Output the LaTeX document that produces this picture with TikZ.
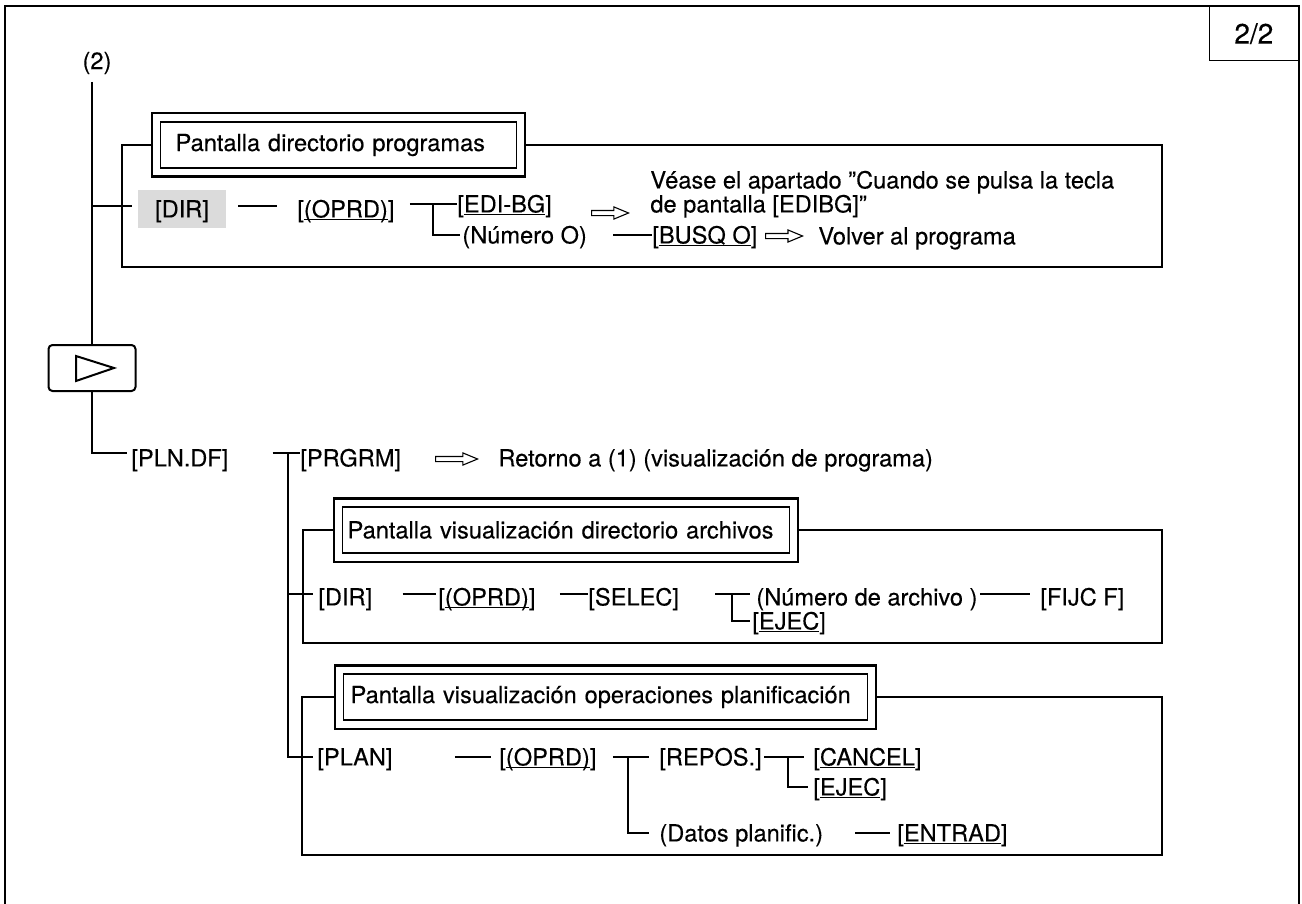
\documentclass[tikz,border=0pt]{standalone}
\usepackage{fontspec}
\setmainfont{TeX Gyre Heros}[FakeBold=0.25]
\usetikzlibrary{fit,shapes.arrows,calc}
\newcommand\txtsize{\fontsize{11.8pt}{12pt}\selectfont}
% soft-key underline drawn just under the baseline
\newcommand\keyul[1]{\sbox0{#1}\rlap{\rule[-1.3pt]{\wd0}{0.6pt}}\usebox0}
\begin{document}
\begin{tikzpicture}[x=0.5pt,y=-0.5pt,
  lbl/.style={inner sep=0pt, anchor=west, font=\txtsize, text height=8.45pt, text depth=0pt},
  keybox/.style={lbl, anchor=center, fill=black!14, minimum width=44pt, minimum height=19pt},
  hin/.style={draw, line width=0.6pt, anchor=west, font=\txtsize, minimum height=23pt, align=left, inner ysep=0pt},
  hout/.style={draw, line width=1.1pt, inner sep=4pt},
  frm/.style={line width=0.65pt},
  conn/.style={line width=0.75pt},
  trunk/.style={line width=1pt},
  harrow/.style={single arrow, draw, line width=0.55pt, anchor=tail, inner xsep=0pt, inner ysep=1pt,
    minimum height=18.5pt, minimum width=0pt, single arrow head extend=1.75pt,
    single arrow tip angle=45, text height=0pt, text depth=0pt},
]
\useasboundingbox (0,0) rectangle (1302,904);

% page border and sheet number
\draw[line width=1.3pt] (5,904) -- (5,6) -- (1299,6) -- (1299,904);
\node[draw, line width=0.65pt, anchor=north east, minimum width=44.5pt, minimum height=27pt,
  font=\fontsize{14pt}{16pt}\selectfont] (page) at (1299,6) {2/2};

% entry point and trunk
\node[font=\txtsize, inner sep=0pt] (lab2) at (97,63) {(2)};
\coordinate (top) at (92,82);
\node[draw, line width=1pt, rounded corners=2pt, minimum width=43.5pt, minimum height=23pt] (nxt) at (92,368) {};
\draw[line width=1pt, line join=miter] ($(nxt.center)+(-16,-12)$) -- ($(nxt.center)+(22,0)$) -- ($(nxt.center)+(-16,13)$) -- cycle;

% ---------- program directory screen ----------
\node[hin, text width=163pt, inner xsep=7.5pt] (h1i) at (160,145) {Pantalla directorio programas};
\node[hout, fit=(h1i)] (h1) {};
\coordinate (f1bl) at (122,267);
\coordinate (f1br) at (1162,267);
\draw[frm] (h1.west) -| (f1bl) -- (f1br) |- (h1.east);

\node[keybox] (dir1) at (182,209) {[DIR]};
\node[lbl] (oprd1) at (297,209) {[\keyul{(OPRD)}]};
\node[lbl] (edi) at (457,204) {[\keyul{EDI-BG}]};
\node[lbl] (numo) at (462,235) {(Número O)};
\node[lbl] (busq) at (652,235) {[\keyul{BUSQ O}]};
\node[harrow] (ar1) at (591,213) {};
\node[harrow] (ar2) at (765,236) {};
\node[lbl] (vea1) at (650,180) {Véase el apartado ”Cuando se pulsa la tecla};
\node[lbl] (vea2) at (650,204) {de pantalla [EDIBG]”};
\node[lbl] (volv) at (818,236) {Volver al programa};

\coordinate (j1) at (92,206);
\coordinate (t1) at (433,204);
\draw[conn] (j1) -- ([xshift=-3pt]dir1.west |- j1);
\draw[conn] ([xshift=6pt]dir1.east |- j1) -- ([xshift=-10pt]oprd1.west |- j1);
\draw[conn] ([xshift=7.5pt]oprd1.east |- edi.west) -- (edi.west);
\draw[conn] (t1) |- ([xshift=-1pt]numo.west);
\draw[conn] ([xshift=13pt]numo.east) -- (busq.west);

% ---------- plan display branch ----------
\node[lbl] (pln) at (131,458) {[PLN.DF]};
\node[lbl] (prg) at (300,458) {[PRGRM]};
\node[harrow, minimum height=21pt] (ar3) at (435,459) {};
\node[lbl] (ret) at (498,458) {Retorno a (1) (visualización de programa)};

\coordinate (c1) at (92,453);
\coordinate (v2t) at (288,453);
\coordinate (v2b) at (288,757);
\draw[trunk] (top) -- (nxt.north);
\draw[trunk] (nxt.south) -- (c1) -- ([xshift=-2pt]pln.west |- c1);
\draw[conn] ([xshift=22pt]pln.east |- v2t) -- (prg.west |- v2t);

% ---------- file directory screen ----------
\node[hin, text width=218.5pt, inner xsep=2.5pt] (h2i) at (342,530) {Pantalla visualización directorio archivos};
\node[hout, fit=(h2i)] (h2) {};
\coordinate (f2bl) at (303,643);
\coordinate (f2br) at (1162,643);
\draw[frm] (h2.west) -| (f2bl) -- (f2br) |- (h2.east);

\node[lbl] (dir2) at (318,597) {[DIR]};
\node[lbl] (oprd2) at (438,597) {[\keyul{(OPRD)}]};
\node[lbl] (sel) at (588,597) {[SELEC]};
\node[lbl] (numa) at (756,597) {(Número de archivo )};
\node[lbl] (fijc) at (1040,597) {[FIJC F]};
\node[lbl] (ejec2) at (752,621) {[\keyul{EJEC}]};

\coordinate (j2) at (288,594);
\coordinate (t2) at (732,594);
\draw[conn] (j2) -- ([xshift=-2.5pt]dir2.west |- j2);
\draw[conn] ([xshift=15pt]dir2.east |- j2) -- ([xshift=-1pt]oprd2.west |- j2);
\draw[conn] ([xshift=12pt]oprd2.east |- j2) -- (sel.west |- j2);
\draw[conn] ([xshift=18pt]sel.east |- t2) -- ([xshift=-3pt]numa.west |- t2);
\draw[conn] (t2) |- ([xshift=-1pt]ejec2.west);
\draw[conn] ([xshift=1pt]numa.east |- t2) -- ([xshift=-5pt]fijc.west |- t2);

% ---------- planning operations screen ----------
\node[hin, text width=255pt, inner xsep=3.5pt] (h3i) at (343,697) {Pantalla visualización operaciones planificación};
\node[hout, fit=(h3i)] (h3) {};
\coordinate (f3bl) at (302,855);
\coordinate (f3br) at (1162,855);
\draw[frm] (h3.west) -| (f3bl) -- (f3br) |- (h3.east);

\node[lbl] (plan) at (317,757) {[PLAN]};
\node[lbl] (oprd3) at (499,757) {[\keyul{(OPRD)}]};
\node[lbl] (repos) at (659,757) {[REPOS.]};
\node[lbl] (canc) at (813,757) {[\keyul{CANCEL}]};
\node[lbl] (ejec3) at (813,787) {[\keyul{EJEC}]};
\node[lbl] (datos) at (659,833) {(Datos planific.)};
\node[lbl] (entr) at (897,833) {[\keyul{ENTRAD}]};

\coordinate (t3) at (628,757);
\coordinate (t4) at (788,757);
\draw[conn] (v2t) -- (v2b) -- ([xshift=-2pt]plan.west |- v2b);
\draw[conn] ([xshift=31pt]plan.east) -- ([xshift=-4pt]oprd3.west);
\draw[conn] ([xshift=8pt]oprd3.east) -- ([xshift=-5pt]repos.west);
\draw[conn] (t3) |- ([xshift=-5pt]datos.west);
\draw[conn] ([xshift=1pt]repos.east) -- ([xshift=-4.5pt]canc.west);
\draw[conn] (t4) |- ([xshift=-2.5pt]ejec3.west);
\draw[conn] ([xshift=16pt]datos.east) -- ([xshift=-3.5pt]entr.west);
\end{tikzpicture}
\end{document}
